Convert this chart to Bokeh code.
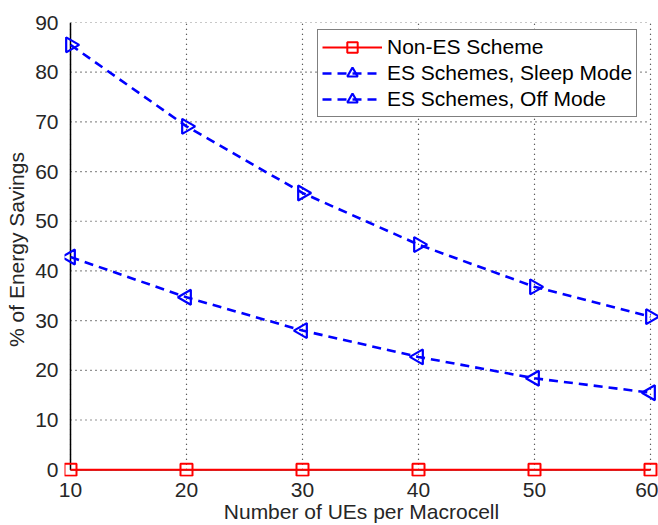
import numpy as np
from bokeh.plotting import figure
from bokeh.models import Legend, LegendItem, FixedTicker, Range1d
from bokeh.embed import file_html
from bokeh.resources import INLINE

ues = [10, 20, 30, 40, 50, 60]
non_es = [0, 0, 0, 0, 0, 0]
sleep_mode = [42.8, 34.7, 28.0, 22.7, 18.4, 15.5]
off_mode = [85.5, 69.1, 55.7, 45.3, 36.8, 30.8]
x_ticks = [10, 20, 30, 40, 50, 60]
y_ticks = [0, 10, 20, 30, 40, 50, 60, 70, 80, 90]

FONT = "Liberation Sans"
TXT = "#262626"

# frame geometry (pixels) chosen so that x=10..60 spans 116px/10 and y=0..90 spans ~49.8px/10
W, H = 658, 525
FL, FR, FT, FB = 64, 0, 22, 48
xs_px = 11.6   # px per x unit
ys_px = 4.98   # px per y unit
x_start = x_ticks[0] - 6 / xs_px
x_end = x_start + (W - FL - FR) / xs_px
y_end = y_ticks[-1]
y_start = y_end - (H - FT - FB) / ys_px

p = figure(width=W, height=H, output_backend="svg", toolbar_location=None,
           x_range=Range1d(x_start, x_end), y_range=Range1d(y_start, y_end),
           min_border_left=FL, min_border_right=FR, min_border_top=FT, min_border_bottom=FB)
p.outline_line_color = None
p.background_fill_color = "white"
p.xgrid.visible = False
p.ygrid.visible = False

for ax in (p.xaxis[0], p.yaxis[0]):
    ax.axis_line_color = None
    ax.major_tick_line_color = None
    ax.minor_tick_line_color = None
    ax.major_label_text_font = FONT
    ax.major_label_text_font_size = "21px"
    ax.major_label_text_color = TXT
    ax.axis_label_text_font = FONT
    ax.axis_label_text_font_size = "21px"
    ax.axis_label_text_font_style = "normal"
    ax.axis_label_text_color = TXT

p.xaxis.ticker = FixedTicker(ticks=x_ticks)
p.yaxis.ticker = FixedTicker(ticks=y_ticks)
p.xaxis.axis_label = "Number of UEs per Macrocell"
p.yaxis.axis_label = "% of Energy Savings"
p.xaxis.major_label_standoff = 0
p.yaxis.major_label_standoff = 0
p.xaxis.axis_label_standoff = 0
p.yaxis.axis_label_standoff = 4

# dotted grid limited to the data box
p.segment(x0=[x_ticks[0]] * len(y_ticks), x1=[x_ticks[-1]] * len(y_ticks),
          y0=y_ticks, y1=y_ticks, line_color="black", line_dash="1 4", line_width=1.2,
          line_alpha=0.85)
p.segment(x0=x_ticks, x1=x_ticks, y0=[y_ticks[0]] * len(x_ticks),
          y1=[y_ticks[-1]] * len(x_ticks), line_color="black", line_dash="1 4",
          line_width=1.2, line_alpha=0.85)
# axis lines
p.segment(x0=[x_ticks[0]], x1=[x_ticks[0]], y0=[y_ticks[0]], y1=[y_ticks[-1]],
          line_color="black", line_width=1.5)
p.segment(x0=[x_ticks[0]], x1=[x_ticks[-1]], y0=[y_ticks[0]], y1=[y_ticks[0]],
          line_color="black", line_width=1.5)

l1 = p.line(ues, non_es, line_color="red", line_width=2)
s1 = p.scatter(ues, non_es, marker="square", size=12, line_color="red", line_width=2,
               fill_color=None)

l2 = p.line(ues, sleep_mode, line_color="blue", line_width=2.6, line_dash="9 6")
s2 = p.scatter(ues, sleep_mode, marker="triangle", size=15, angle=np.pi / 2,
               line_color="blue", line_width=2.2, fill_color=None)

l3 = p.line(ues, off_mode, line_color="blue", line_width=2.6, line_dash="9 6")
s3 = p.scatter(ues, off_mode, marker="triangle", size=15, angle=-np.pi / 2,
               line_color="blue", line_width=2.2, fill_color=None)

legend = Legend(items=[
    LegendItem(label="Non-ES Scheme", renderers=[l1, s1]),
    LegendItem(label="ES Schemes, Sleep Mode", renderers=[l2, s2]),
    LegendItem(label="ES Schemes, Off Mode", renderers=[l3, s3]),
], location=(317 - FL, (H - FB) - 118))
legend.label_text_font = FONT
legend.label_text_font_size = "21px"
legend.label_text_color = "black"
legend.border_line_color = "black"
legend.border_line_width = 1.2
legend.background_fill_color = "white"
legend.background_fill_alpha = 1
legend.glyph_width = 60
legend.glyph_height = 26
legend.label_standoff = 5
legend.label_height = 26
legend.spacing = 0
legend.padding = 4
legend.margin = 0
p.add_layout(legend, "center")

open("out.html", "w").write(file_html(p, INLINE))
